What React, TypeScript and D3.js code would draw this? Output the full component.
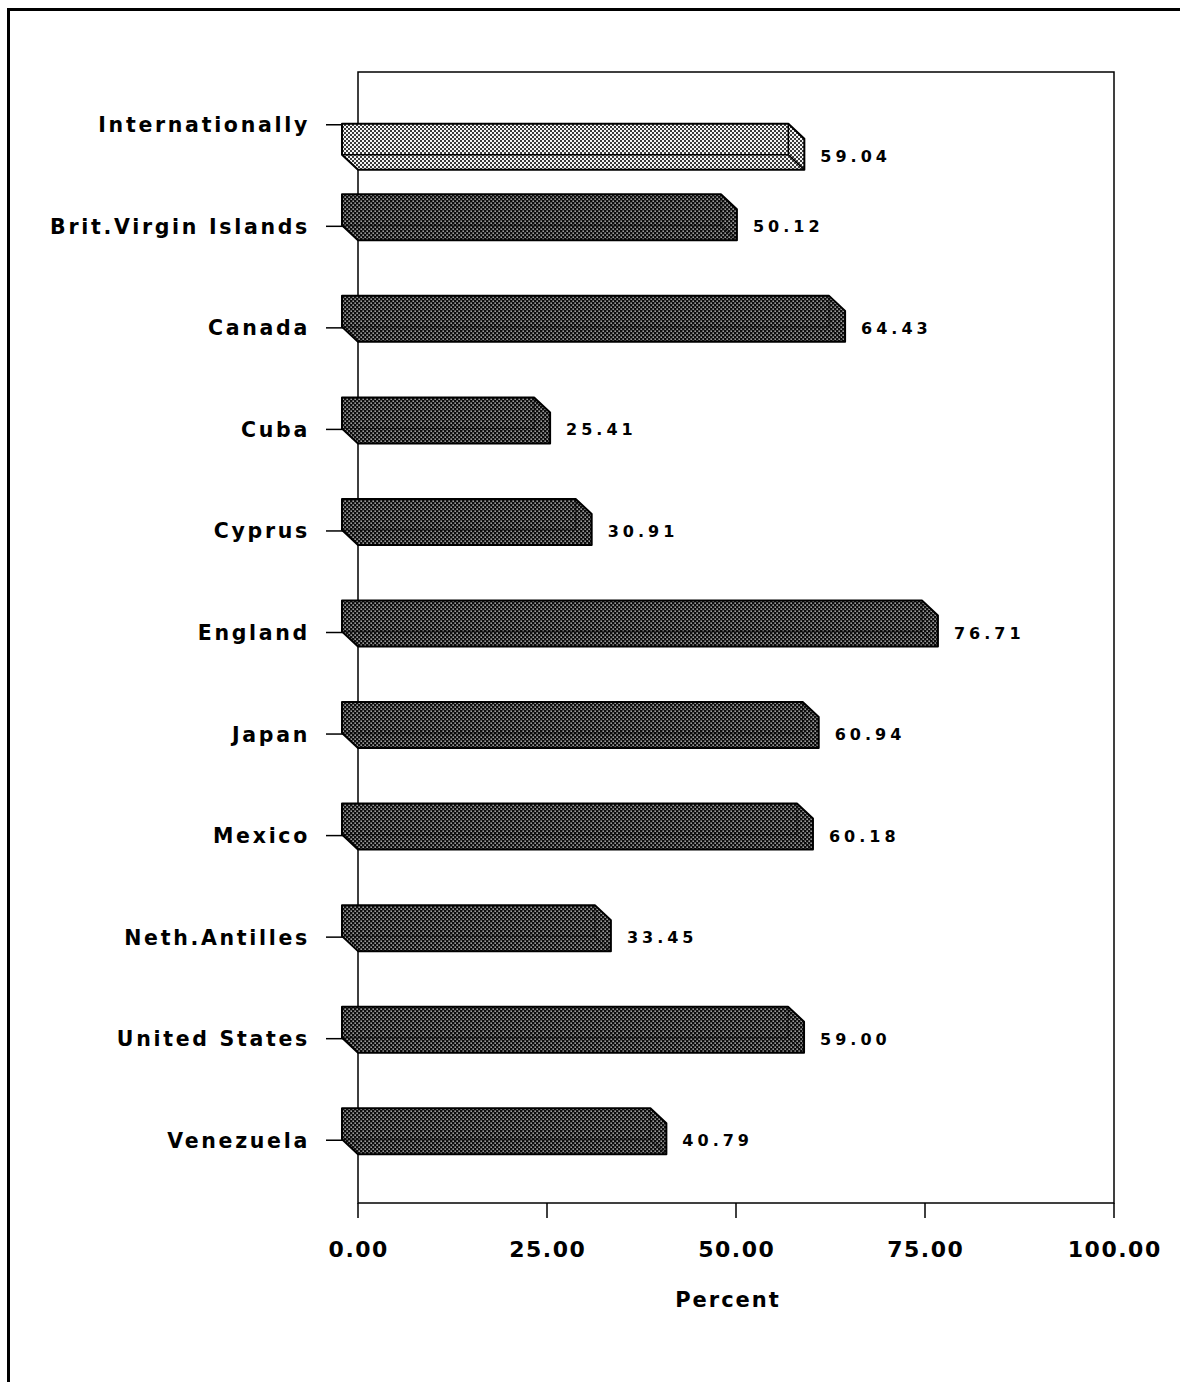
import React from "react";
import * as d3 from "d3";

const categories = [
  "Internationally",
  "Brit.Virgin Islands",
  "Canada",
  "Cuba",
  "Cyprus",
  "England",
  "Japan",
  "Mexico",
  "Neth.Antilles",
  "United States",
  "Venezuela",
];
const values = [59.04, 50.12, 64.43, 25.41, 30.91, 76.71, 60.94, 60.18, 33.45, 59.0, 40.79];
const highlighted = ["Internationally"];
const xTicks = [0, 25, 50, 75, 100];
const xTitle = "Percent";

const W = 1180;
const H = 1382;
const plot = { left: 358, right: 1114, top: 72, bottom: 1203 };
const DX = 16;
const DY = 15;
const FRONT = 31;
const FONT = "'DejaVu Sans', 'Liberation Sans', Arial, sans-serif";

export default function App() {
  const x = d3.scaleLinear().domain([0, 100]).range([plot.left, plot.right]);
  const y = d3.scaleBand<string>().domain(categories).range([74, 1191]).padding(0);
  const fmt = d3.format(".2f");
  const center = (c: string) => (y(c) as number) + y.bandwidth() / 2;

  const bars = categories.map((c, i) => {
    const v = values[i];
    const light = highlighted.includes(c);
    const tick = center(c);
    const top = light ? tick - 1 : tick - FRONT - 1;
    const bottom = top + FRONT;
    const x0 = x(0) - DX;
    const xv = x(v);
    const outline = d3.path();
    outline.moveTo(x0, top);
    outline.lineTo(xv - DX, top);
    outline.lineTo(xv, top + DY);
    outline.lineTo(xv, bottom + DY);
    outline.lineTo(x0 + DX, bottom + DY);
    outline.lineTo(x0, bottom);
    outline.closePath();
    const inner = d3.path();
    inner.moveTo(x0, bottom);
    inner.lineTo(xv - DX, bottom);
    inner.lineTo(xv - DX, top);
    inner.moveTo(xv - DX, bottom);
    inner.lineTo(xv, bottom + DY);
    return { c, v, light, tick, top, bottom, xv, outline: outline.toString(), inner: inner.toString() };
  });

  return (
    <svg
      width={W}
      height={H}
      viewBox={`0 0 ${W} ${H}`}
      style={{ position: "absolute", left: 0, top: 0, display: "block", background: "#fff" }}
    >
      <defs>
        <pattern id="darkDots" width="4" height="4" patternUnits="userSpaceOnUse">
          <rect width="4" height="4" fill="#0d0d0d" />
          <rect x="0.5" y="0.5" width="1.3" height="1.3" fill="#e8e8e8" />
          <rect x="2.5" y="2.5" width="1.3" height="1.3" fill="#e8e8e8" />
        </pattern>
        <pattern id="lightDots" width="4" height="4" patternUnits="userSpaceOnUse">
          <rect width="4" height="4" fill="#f4f4f4" />
          <rect x="0" y="0" width="2" height="2" fill="#3a3a3a" />
          <rect x="2" y="2" width="2" height="2" fill="#3a3a3a" />
        </pattern>
      </defs>

      {/* outer frame */}
      <rect x={8.5} y={9.5} width={1300} height={1500} fill="none" stroke="#000" strokeWidth={3} />

      {/* plot frame */}
      <rect
        x={plot.left}
        y={plot.top}
        width={plot.right - plot.left}
        height={plot.bottom - plot.top}
        fill="none"
        stroke="#000"
        strokeWidth={1.5}
      />

      {/* x ticks */}
      {xTicks.map((t) => (
        <g key={t}>
          <line x1={x(t)} x2={x(t)} y1={plot.bottom} y2={plot.bottom + 15} stroke="#000" strokeWidth={1.5} />
          <text
            x={x(t) + 0.75}
            y={1257}
            textAnchor="middle"
            fontFamily={FONT}
            fontWeight="bold"
            fontSize={22}
            letterSpacing={1.5}
            fill="#000"
          >
            {fmt(t)}
          </text>
        </g>
      ))}
      <text
        x={728}
        y={1307}
        textAnchor="middle"
        fontFamily={FONT}
        fontWeight="bold"
        fontSize={21}
        letterSpacing={2}
        fill="#000"
      >
        {xTitle}
      </text>

      {/* category ticks and labels */}
      {bars.map((b) => (
        <g key={"t" + b.c}>
          <line x1={326} x2={plot.left} y1={b.tick} y2={b.tick} stroke="#000" strokeWidth={1.5} />
          <text
            x={310}
            y={b.tick + 7.5}
            textAnchor="end"
            fontFamily={FONT}
            fontWeight="bold"
            fontSize={20.5}
            letterSpacing={2.7}
            fill="#000"
          >
            {b.c}
          </text>
        </g>
      ))}

      {/* bars */}
      {bars.map((b) => (
        <g key={"b" + b.c}>
          <path
            d={b.outline}
            fill={b.light ? "url(#lightDots)" : "url(#darkDots)"}
            stroke="#000"
            strokeWidth={2}
            strokeLinejoin="round"
          />
          <path d={b.inner} fill="none" stroke="#000" strokeWidth={b.light ? 1.5 : 1} opacity={b.light ? 1 : 0.6} />
          <text
            x={b.xv + 16}
            y={b.bottom + 7}
            fontFamily={FONT}
            fontWeight="bold"
            fontSize={16}
            letterSpacing={4}
            fill="#000"
          >
            {fmt(b.v)}
          </text>
        </g>
      ))}
    </svg>
  );
}
